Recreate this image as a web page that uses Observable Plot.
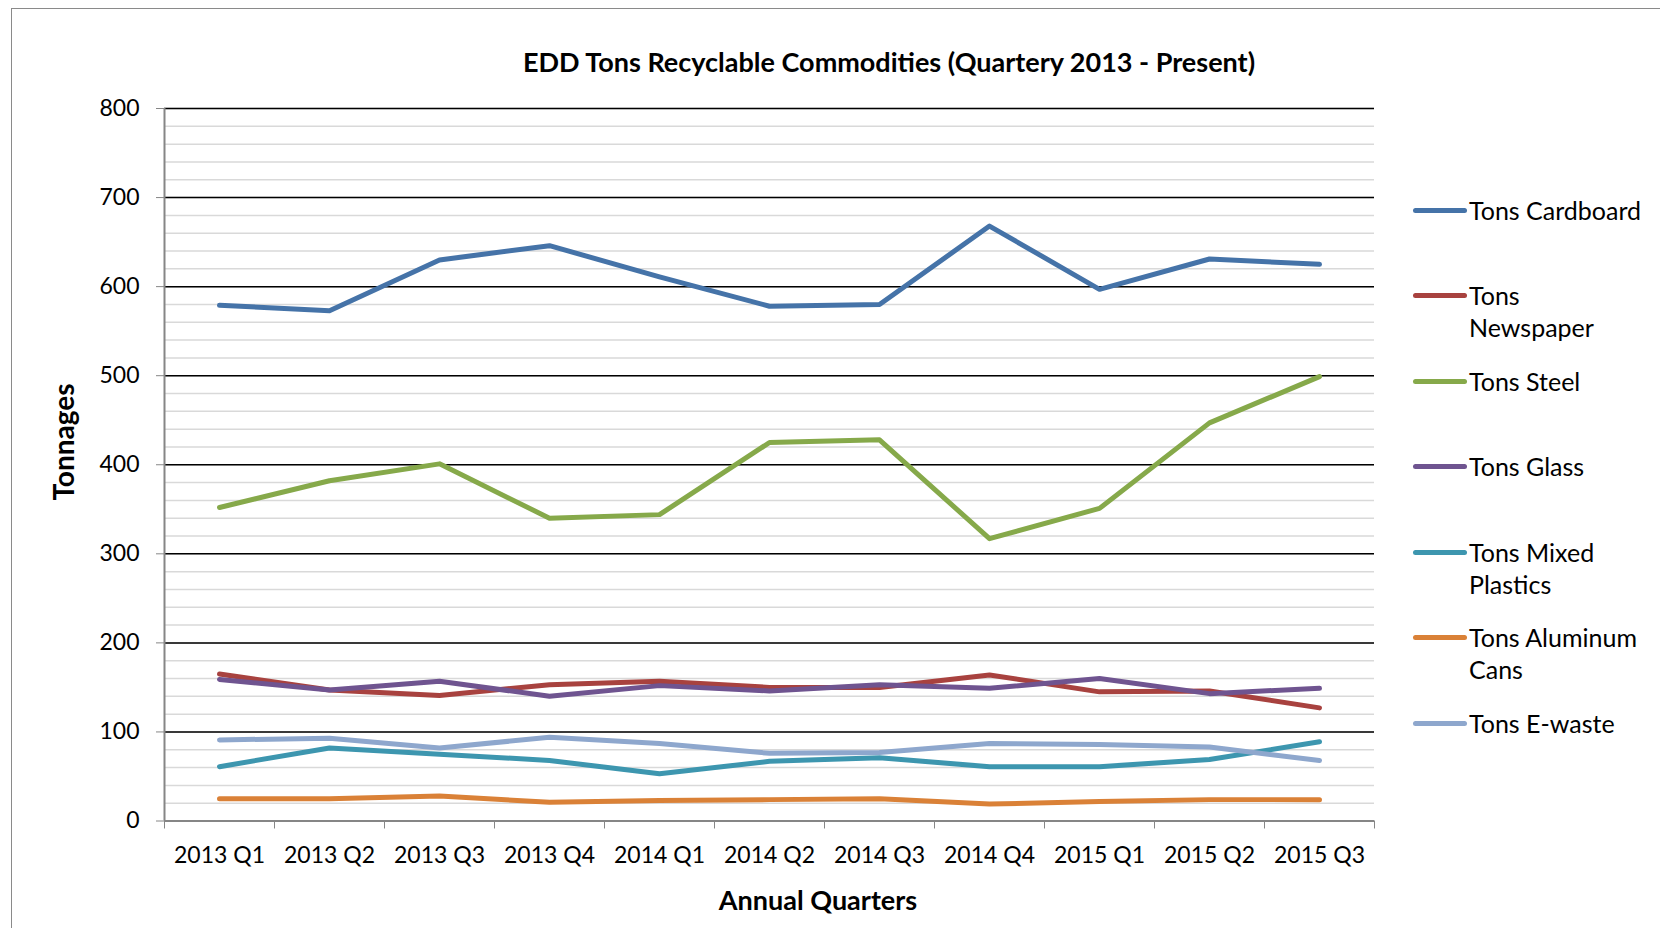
<!DOCTYPE html>
<html>
<head>
<meta charset="utf-8">
<script src="https://cdn.jsdelivr.net/npm/d3@7"></script>
<script src="https://cdn.jsdelivr.net/npm/@observablehq/plot@0.6"></script>
<style>
  html, body { margin: 0; padding: 0; background: #fff; overflow: hidden; }
  #wrap { position: relative; width: 1660px; height: 928px; overflow: hidden; font-family: Lato, "Open Sans", sans-serif; color: #000; }
  #border { position: absolute; left: 11px; top: 8px; width: 1700px; height: 1000px; border: 1.5px solid #8a8a8a; box-sizing: border-box; }
  #chart { position: absolute; left: 0; top: 0; }
  .title { position: absolute; left: 889px; top: 61px; transform: translate(-50%, -50%); font-weight: 700; font-size: 27px; white-space: nowrap; }
  .xtitle { position: absolute; left: 818px; top: 899px; transform: translate(-50%, -50%); font-weight: 700; font-size: 27px; white-space: nowrap; }
  .ytitle { position: absolute; left: 63px; top: 442px; transform: translate(-50%, -50%) rotate(-90deg); font-weight: 700; font-size: 28px; white-space: nowrap; }
  .leg { position: absolute; left: 1413px; font-size: 25px; line-height: 32.5px; }
  .leg .sw { position: absolute; left: 0; top: 14px; width: 54px; height: 5px; border-radius: 3px; }
  .leg .tx { position: absolute; left: 56px; top: 0; white-space: nowrap; }
</style>
</head>
<body>
<div id="wrap">
  <div id="border"></div>
  <div id="chart"></div>
  <div class="title">EDD Tons Recyclable Commodities (Quartery 2013 - Present)</div>
  <div class="xtitle">Annual Quarters</div>
  <div class="ytitle">Tonnages</div>
  <div id="legend"></div>
</div>
<script>
const quarters = ["2013 Q1","2013 Q2","2013 Q3","2013 Q4","2014 Q1","2014 Q2","2014 Q3","2014 Q4","2015 Q1","2015 Q2","2015 Q3"];
const cardboard = [579,573,630,646,611,578,580,668,597,631,625];
const newspaper = [165,147,141,153,157,150,150,164,145,146,127];
const steel     = [352,382,401,340,344,425,428,317,351,447,499];
const glass     = [159,147,157,140,152,146,153,149,160,143,149];
const plastics  = [61,82,75,68,53,67,71,61,61,69,89];
const aluminum  = [25,25,28,21,23,24,25,19,22,24,24];
const ewaste    = [91,93,82,94,87,76,77,87,86,83,68];

const seriesNames = ["Tons Cardboard","Tons Newspaper","Tons Steel","Tons Glass","Tons Mixed Plastics","Tons Aluminum Cans","Tons E-waste"];
const legendLines = [["Tons Cardboard"],["Tons","Newspaper"],["Tons Steel"],["Tons Glass"],["Tons Mixed","Plastics"],["Tons Aluminum","Cans"],["Tons E-waste"]];
const seriesColors = ["#4573A8","#A8423F","#86A94A","#6F5490","#3D96AF","#DA8137","#8EA7CD"];
const seriesValues = [cardboard, newspaper, steel, glass, plastics, aluminum, ewaste];
const yTicks = d3.range(0, 801, 100);
const yMinor = d3.range(0, 801, 20);

const table = seriesNames.flatMap((name, s) =>
  seriesValues[s].map((v, i) => ({series: name, xi: i + 0.5, quarter: quarters[i], value: v}))
);

const chart = Plot.plot({
  width: 1660,
  height: 928,
  marginLeft: 164,
  marginRight: 286,
  marginTop: 108,
  marginBottom: 107.5,
  style: {fontFamily: "Lato, 'Open Sans', sans-serif", fontSize: "23px", color: "#000", background: "transparent"},
  x: {type: "linear", domain: [0, quarters.length]},
  y: {domain: [0, 800]},
  color: {domain: seriesNames, range: seriesColors},
  marks: [
    Plot.gridY(yMinor, {stroke: "#d9d9d9", strokeOpacity: 1, strokeWidth: 1.5}),
    Plot.gridY(yTicks, {stroke: "#000", strokeOpacity: 1, strokeWidth: 1.5}),
    Plot.axisY(yTicks, {tickSize: 8, tickPadding: 17, stroke: "#868686", fill: "#000", fontSize: 23, label: null}),
    Plot.axisX(d3.range(0, quarters.length + 1), {tickSize: 8, tickFormat: () => "", stroke: "#868686", label: null}),
    Plot.axisX(quarters.map((q, i) => i + 0.5), {tickSize: 0, tickPadding: 26, tickFormat: d => quarters[Math.floor(d)], fill: "#000", fontSize: 23, label: null}),
    Plot.ruleX([0], {stroke: "#868686", strokeWidth: 2}),
    Plot.ruleY([0], {stroke: "#868686", strokeWidth: 2}),
    Plot.line(table, {x: "xi", y: "value", z: "series", stroke: "series", strokeWidth: 5, strokeLinecap: "round", strokeLinejoin: "round"})
  ]
});
document.getElementById("chart").appendChild(chart);

const legendY = [210, 295, 381, 466, 552, 637, 723];
const legend = d3.select("#legend");
legendLines.forEach((lines, i) => {
  const g = legend.append("div").attr("class", "leg").style("top", (legendY[i] - 16.25) + "px");
  g.append("div").attr("class", "sw").style("background", seriesColors[i]);
  g.append("div").attr("class", "tx").html(lines.join("<br>"));
});
</script>
</body>
</html>
